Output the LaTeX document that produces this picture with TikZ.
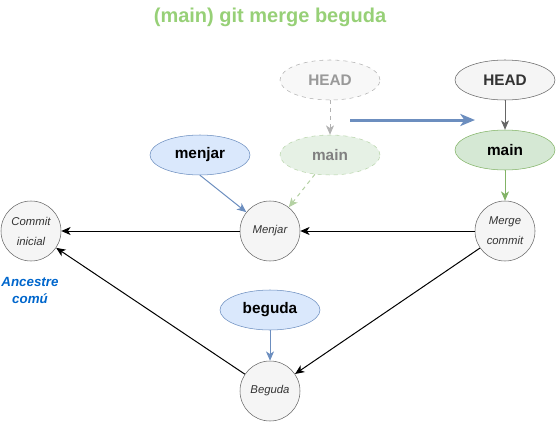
\documentclass[tikz,border=0pt]{standalone}
\usepackage{fontspec}
\setmainfont{Liberation Sans}
\usetikzlibrary{arrows.meta,shapes.geometric}
\definecolor{verdtitol}{HTML}{97D077}
\definecolor{verdfons}{HTML}{D5E8D4}
\definecolor{verdvora}{HTML}{82B366}
\definecolor{blaufons}{HTML}{DAE8FC}
\definecolor{blauvora}{HTML}{6C8EBF}
\definecolor{grisfons}{HTML}{F5F5F5}
\definecolor{grisvora}{HTML}{666666}
\definecolor{textfosc}{HTML}{333333}
\definecolor{blauancestre}{HTML}{0066CC}
\begin{document}
\begin{tikzpicture}[
    x=0.75pt, y=-0.75pt,
    every node/.style={font=\fontsize{11.5}{14}\selectfont\bfseries},
    commit/.style={circle, draw=grisvora, fill=grisfons, minimum size=45pt,
        inner sep=0pt, align=center, text=textfosc,
        font=\fontsize{8.5}{15}\selectfont\itshape},
    branca/.style={ellipse, minimum width=75pt, minimum height=30pt, inner sep=0pt},
    fletxa/.style={-{Stealth[length=7pt,width=6pt,inset=2pt]}, line width=0.75pt}]
    \useasboundingbox (0,0) rectangle (556,421);

    % Titol.
    \node[text=verdtitol, font=\fontsize{15}{18}\selectfont\bfseries] (titol) at (270,17)
        {(main) git merge beguda};

    % Commits.
    \node[commit] (inicial) at (31,231) {Commit\\inicial};
    \node[commit] (menjarc) at (270,231) {Menjar};
    \node[commit] (merge) at (505,231) {Merge\\commit};
    \node[commit] (begudac) at (270,391) {Beguda};
    \node[text=blauancestre, align=center,
        font=\fontsize{10}{12.75}\selectfont\bfseries\itshape] (ancestre) at (30,290)
        {Ancestre\\comú};

    % Branques.
    \node[branca, draw=blauvora, fill=blaufons] (menjar) at (200,155) {menjar};
    \node[branca, draw=blauvora, fill=blaufons] (beguda) at (270,310) {beguda};
    \node[branca, draw=grisvora, fill=grisfons, text=textfosc] (head) at (505,80) {HEAD};
    \node[branca, draw=verdvora, fill=verdfons] (main) at (505,150) {main};

    % Estat anterior (esvait).
    \node[branca, dashed, draw=grisvora, draw opacity=0.5, fill=grisfons, fill opacity=0.7,
        text opacity=1, text=gray!80] (headvell) at (330,80) {HEAD};
    \node[branca, dashed, draw=verdvora, draw opacity=0.5, fill=verdfons, fill opacity=0.6,
        text opacity=1, text=gray] (mainvell) at (330,155) {main};

    % Arestes entre commits.
    \foreach \a/\b in {menjarc/inicial, merge/menjarc, merge/begudac, begudac/inicial} {
        \draw[fletxa] (\a) -- (\b);
    }

    % Punters.
    \draw[fletxa, blauvora] (menjar.south) -- (menjarc);
    \draw[fletxa, blauvora] (beguda) -- (begudac);
    \draw[fletxa, grisvora] (head) -- (main);
    \draw[fletxa, verdvora] (main) -- (merge);
    \draw[fletxa, dashed, gray!60] (headvell) -- (mainvell);
    \draw[fletxa, dashed, verdvora!60] (mainvell.232) -- (menjarc);

    % Canvi de HEAD.
    \coordinate (desde) at (350,120);
    \coordinate (fins) at (475,120);
    \draw[-{Stealth[length=11pt,width=9pt,inset=3pt]}, line width=2.25pt, blauvora]
        (desde) -- (fins);
\end{tikzpicture}
\end{document}
